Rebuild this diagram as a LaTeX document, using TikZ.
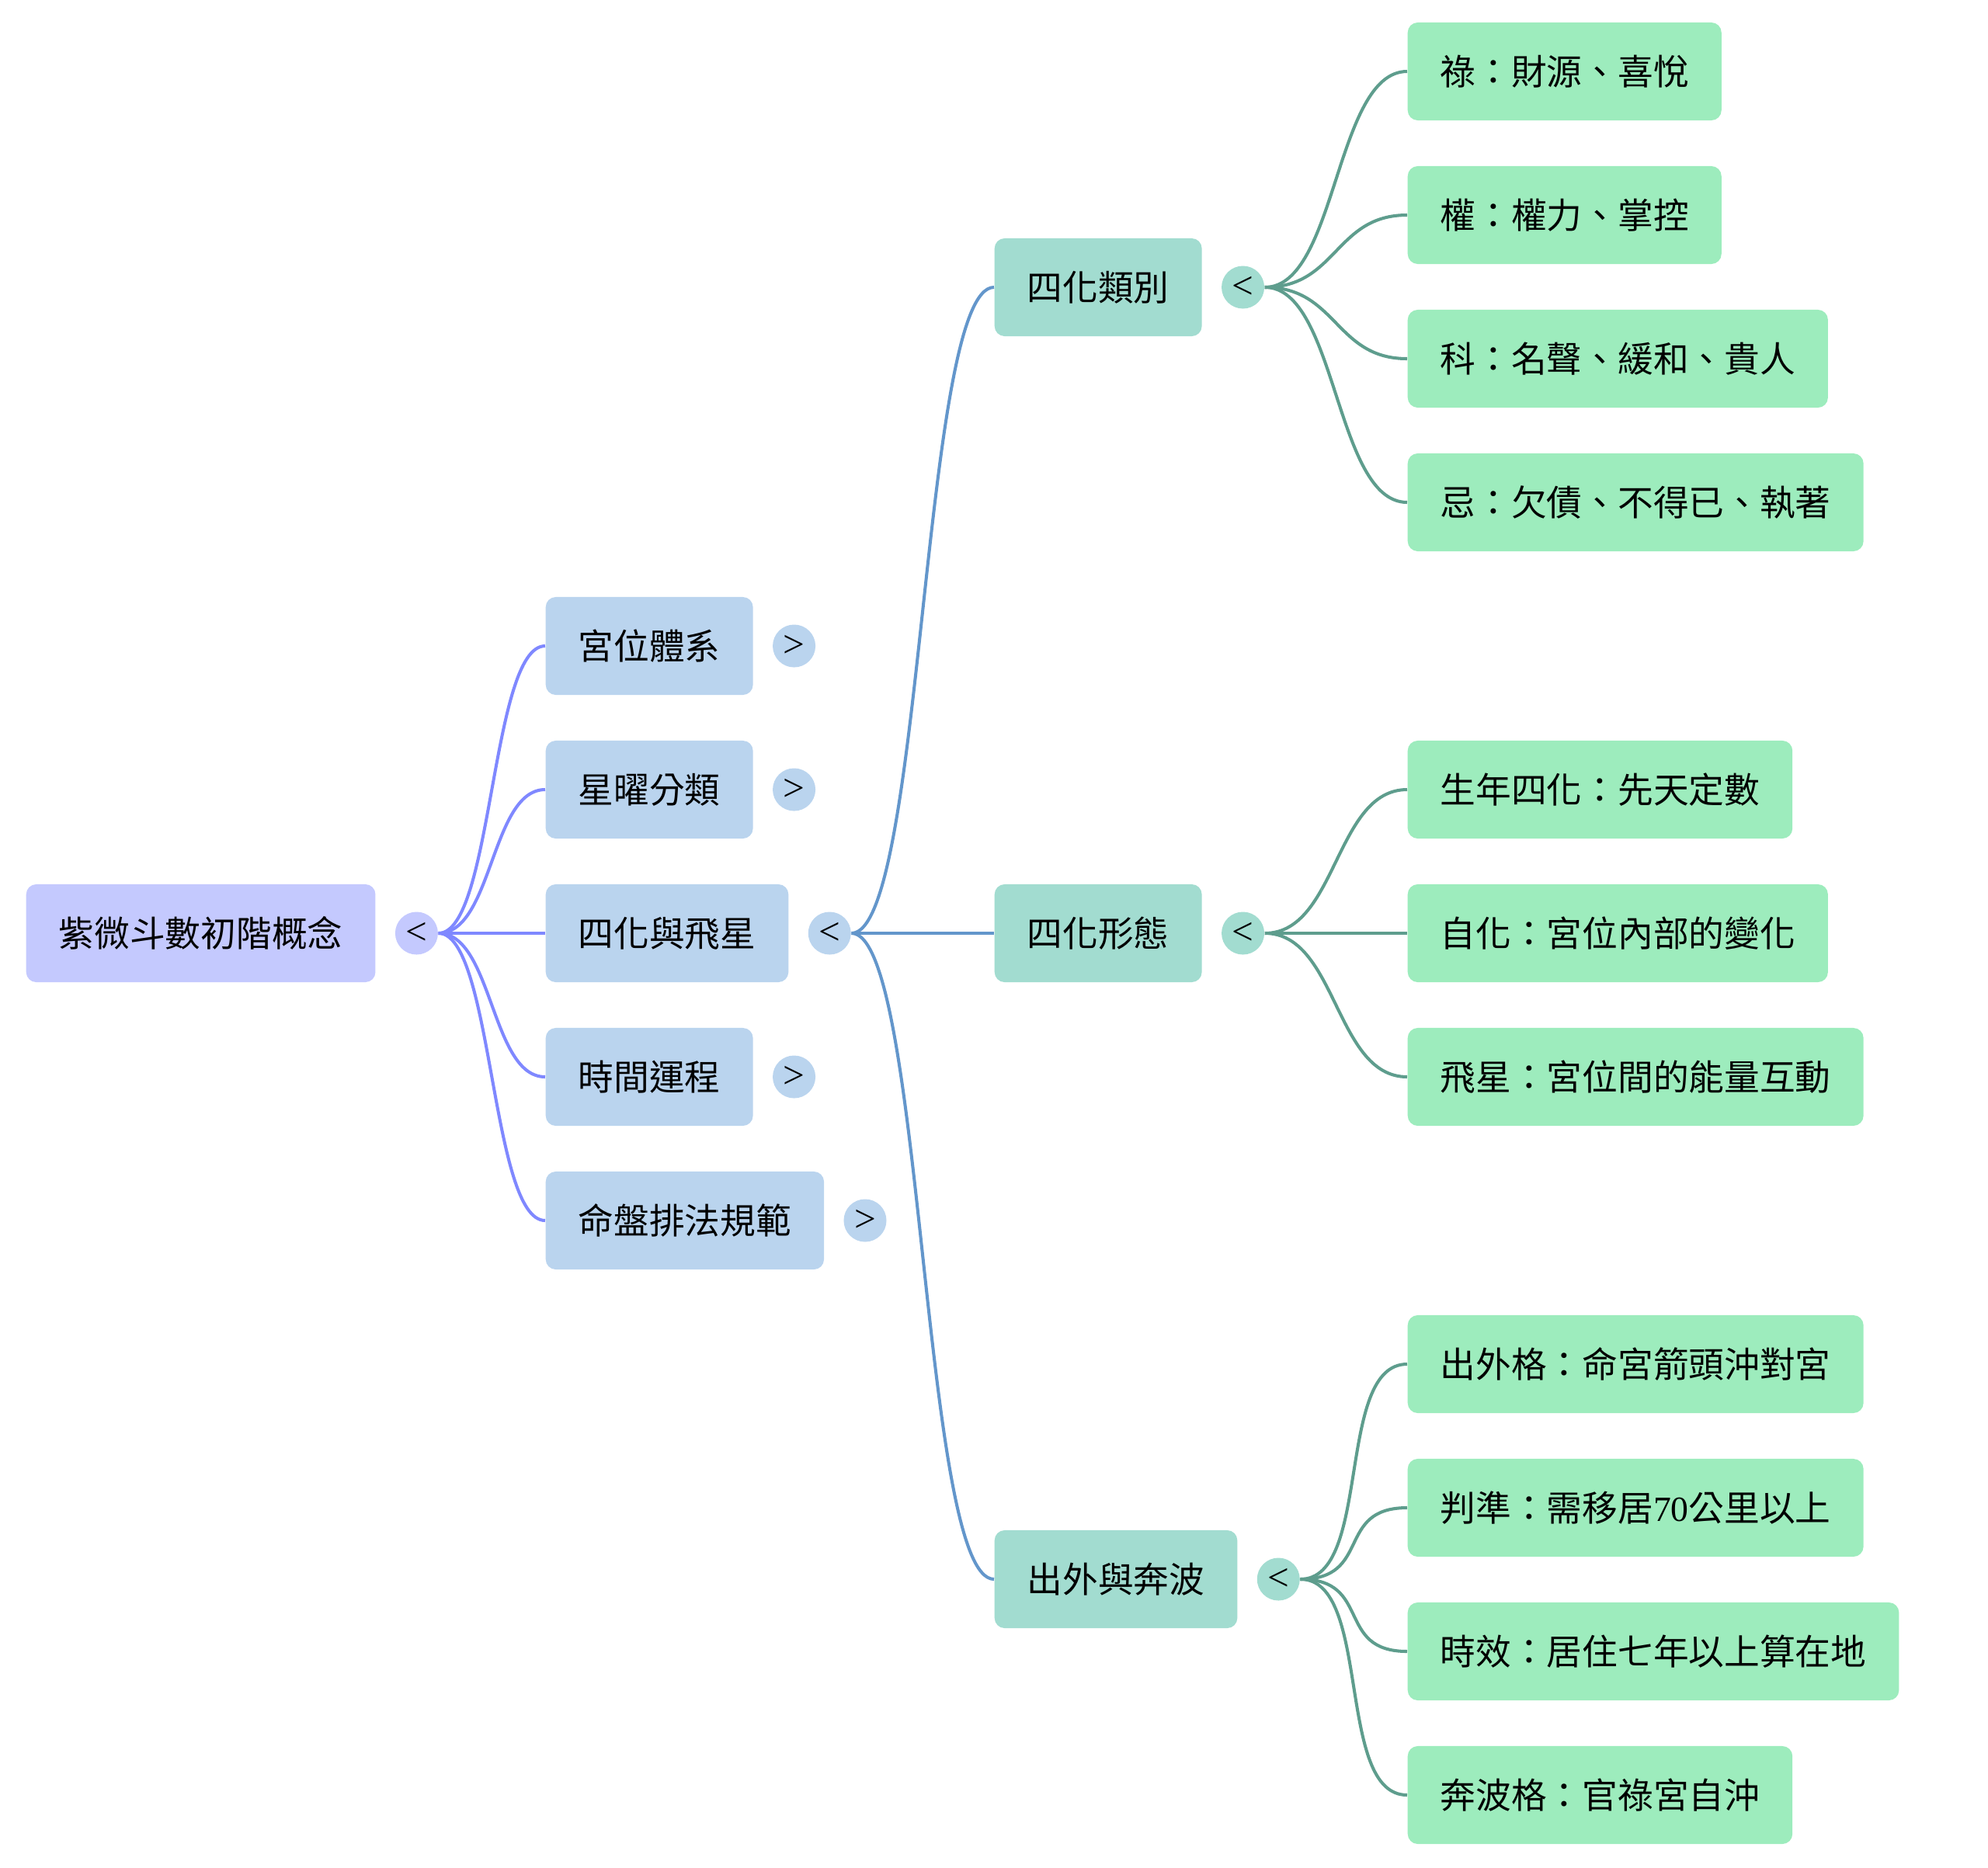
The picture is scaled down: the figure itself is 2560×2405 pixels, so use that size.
\documentclass[tikz,border=0pt]{standalone}
\usepackage{fontspec}
\setmainfont{Noto Sans CJK TC}
\newfontfamily\latinfont{Liberation Serif}
\usepackage{tikz}
\usetikzlibrary{positioning}

\definecolor{rootfill}{HTML}{C4C9FE}
\definecolor{rootline}{HTML}{7F88FF}
\definecolor{bluefill}{HTML}{BAD4EE}
\definecolor{blueline}{HTML}{6396CB}
\definecolor{tealfill}{HTML}{A2DCD0}
\definecolor{tealline}{HTML}{5E9D8D}
\definecolor{leaffill}{HTML}{9DECBD}

\begin{document}
\begin{tikzpicture}[
  x=0.01cm, y=-0.01cm,
  topic/.style={rounded corners=0.13cm, minimum height=1.26cm, inner xsep=0.42cm,
    anchor=west, font=\fontsize{13pt}{15pt}\selectfont},
  rootbox/.style={topic, fill=rootfill},
  bluebox/.style={topic, fill=bluefill},
  tealbox/.style={topic, fill=tealfill},
  leafbox/.style={topic, fill=leaffill},
  toggle/.style={circle, minimum size=0.55cm, inner sep=0pt,
    font=\latinfont\fontsize{14pt}{15pt}\selectfont, right=0.24cm of #1},
  link/.style={line width=1.15pt},
]
  \useasboundingbox (0,0) rectangle (2560,2405);

  % root and its toggle
  \node[rootbox] (root) at (33,1202) {紫微斗數初階概念};
  \node[toggle=root.east, fill=rootfill] (rootdot) {<};

  % second level
  \node[bluebox] (gong)    at (702,832)  {宮位體系};
  \node[bluebox] (xing)    at (702,1017) {星曜分類};
  \node[bluebox] (sihua)   at (702,1202) {四化與飛星};
  \node[bluebox] (shijian) at (702,1387) {時間運程};
  \node[bluebox] (mingpan) at (702,1572) {命盤排法規範};
  \node[toggle=gong.east, fill=bluefill]    (gongdot)    {>};
  \node[toggle=xing.east, fill=bluefill]    (xingdot)    {>};
  \node[toggle=sihua.east, fill=bluefill]   (sihuadot)   {<};
  \node[toggle=shijian.east, fill=bluefill] (shijiandot) {>};
  \node[toggle=mingpan.east, fill=bluefill] (mingpandot) {>};

  \foreach \kid in {gong,xing,sihua,shijian,mingpan} {
    \draw[link, rootline] (rootdot.east) .. controls +(70,0) and +(-70,0) .. (\kid.west);
  }

  % third level
  \node[tealbox] (leibie)  at (1280,370)  {四化類別};
  \node[tealbox] (xingtai) at (1280,1202) {四化形態};
  \node[tealbox] (chuwai)  at (1280,2034) {出外與奔波};
  \node[toggle=leibie.east, fill=tealfill]  (leibiedot)  {<};
  \node[toggle=xingtai.east, fill=tealfill] (xingtaidot) {<};
  \node[toggle=chuwai.east, fill=tealfill]  (chuwaidot)  {<};

  \foreach \kid in {leibie,xingtai,chuwai} {
    \draw[link, blueline] (sihuadot.east) .. controls +(93,0) and +(-93,0) .. (\kid.west);
  }

  % leaves
  \foreach \txt [count=\i] in {祿：財源、喜悅, 權：權力、掌控, 科：名聲、緩和、貴人, 忌：欠債、不得已、執著} {
    \pgfmathsetmacro{\py}{92+185*(\i-1)}
    \node[leafbox] (lei\i) at (1812,\py) {\txt};
    \draw[link, tealline] (leibiedot.east) .. controls +(93,0) and +(-93,0) .. (lei\i.west);
  }
  \foreach \txt [count=\i] in {生年四化：先天定數, 自化：宮位內部的變化, 飛星：宮位間的能量互動} {
    \pgfmathsetmacro{\py}{1017+185*(\i-1)}
    \node[leafbox] (tai\i) at (1812,\py) {\txt};
    \draw[link, tealline] (xingtaidot.east) .. controls +(93,0) and +(-93,0) .. (tai\i.west);
  }
  \foreach \txt [count=\i] in {出外格：命宮箭頭沖對宮, 判準：需移居{\latinfont 70}公里以上, 時效：居住七年以上算在地, 奔波格：官祿宮自沖} {
    \pgfmathsetmacro{\py}{1757+185*(\i-1)}
    \node[leafbox] (chu\i) at (1812,\py) {\txt};
    \draw[link, tealline] (chuwaidot.east) .. controls +(93,0) and +(-93,0) .. (chu\i.west);
  }
\end{tikzpicture}
\end{document}
